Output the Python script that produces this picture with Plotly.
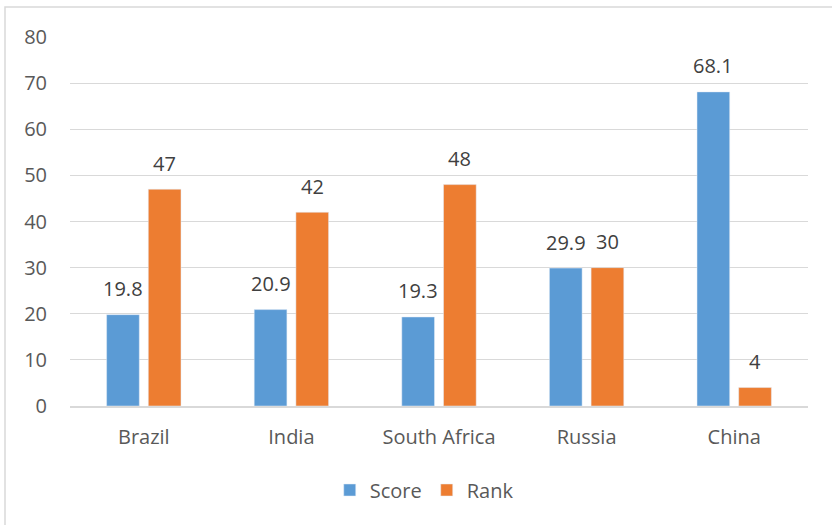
import plotly.graph_objects as go

categories = ["Brazil", "India", "South Africa", "Russia", "China"]
score = [19.8, 20.9, 19.3, 29.9, 68.1]
rank = [47, 42, 48, 30, 4]
y_ticks = [0, 10, 20, 30, 40, 50, 60, 70, 80]

FONT = "Open Sans"
TXT = "#595959"
LBL = "#404040"

fig = go.Figure()
fig.add_trace(go.Bar(name="Score", x=categories, y=score, marker_color="#5B9BD5"))
fig.add_trace(go.Bar(name="Rank", x=categories, y=rank, marker_color="#ED7D31"))

L, R, T, B = 70, 24, 37, 119
W, H = 832, 525
pw, ph = W - L - R, H - T - B

# bar-centre offset of each series inside its group, in pixels
half_sep = 20.9
annotations = []
for series, dx in ((score, -half_sep), (rank, half_sep)):
    for c, v in zip(categories, series):
        annotations.append(dict(
            x=c, y=v, xref="x", yref="y", text=f"{v:g}", showarrow=False,
            xshift=dx, yshift=26, yanchor="middle", xanchor="center",
            font=dict(family=FONT, size=20, color=LBL),
        ))

fig.update_layout(
    width=W, height=H,
    margin=dict(l=L, r=R, t=T, b=B),
    paper_bgcolor="white", plot_bgcolor="white",
    barmode="group", bargap=0.435, bargroupgap=0.216,
    font=dict(family=FONT, size=20, color=TXT),
    showlegend=True,
    legend=dict(orientation="h", x=0.48, xanchor="center", y=(406 - 490) / ph, yanchor="middle",
                font=dict(family=FONT, size=20, color=TXT), itemwidth=30, traceorder="normal"),
    xaxis=dict(showgrid=False, showline=True, linecolor="#D9D9D9", linewidth=1.5,
               ticks="", tickfont=dict(family=FONT, size=20, color=TXT), ticklabelstandoff=12),
    yaxis=dict(range=[0, 80], tickvals=y_ticks, showgrid=True, gridcolor="#D9D9D9", gridwidth=1.3,
               zeroline=False, showline=False, ticks="",
               tickfont=dict(family=FONT, size=20, color=TXT), ticklabelstandoff=22),
    annotations=annotations,
    shapes=[dict(type="rect", xref="paper", yref="paper",
                 x0=(5 - L) / pw, x1=(W + 20 - L) / pw,
                 y0=(406 - (H + 20)) / ph, y1=(406 - 7) / ph,
                 line=dict(color="#D9D9D9", width=1.5), layer="below")],
)

fig.write_html("out.html", config={"displayModeBar": False},
               post_script="document.body.style.margin='0';document.body.style.overflow='hidden';")
